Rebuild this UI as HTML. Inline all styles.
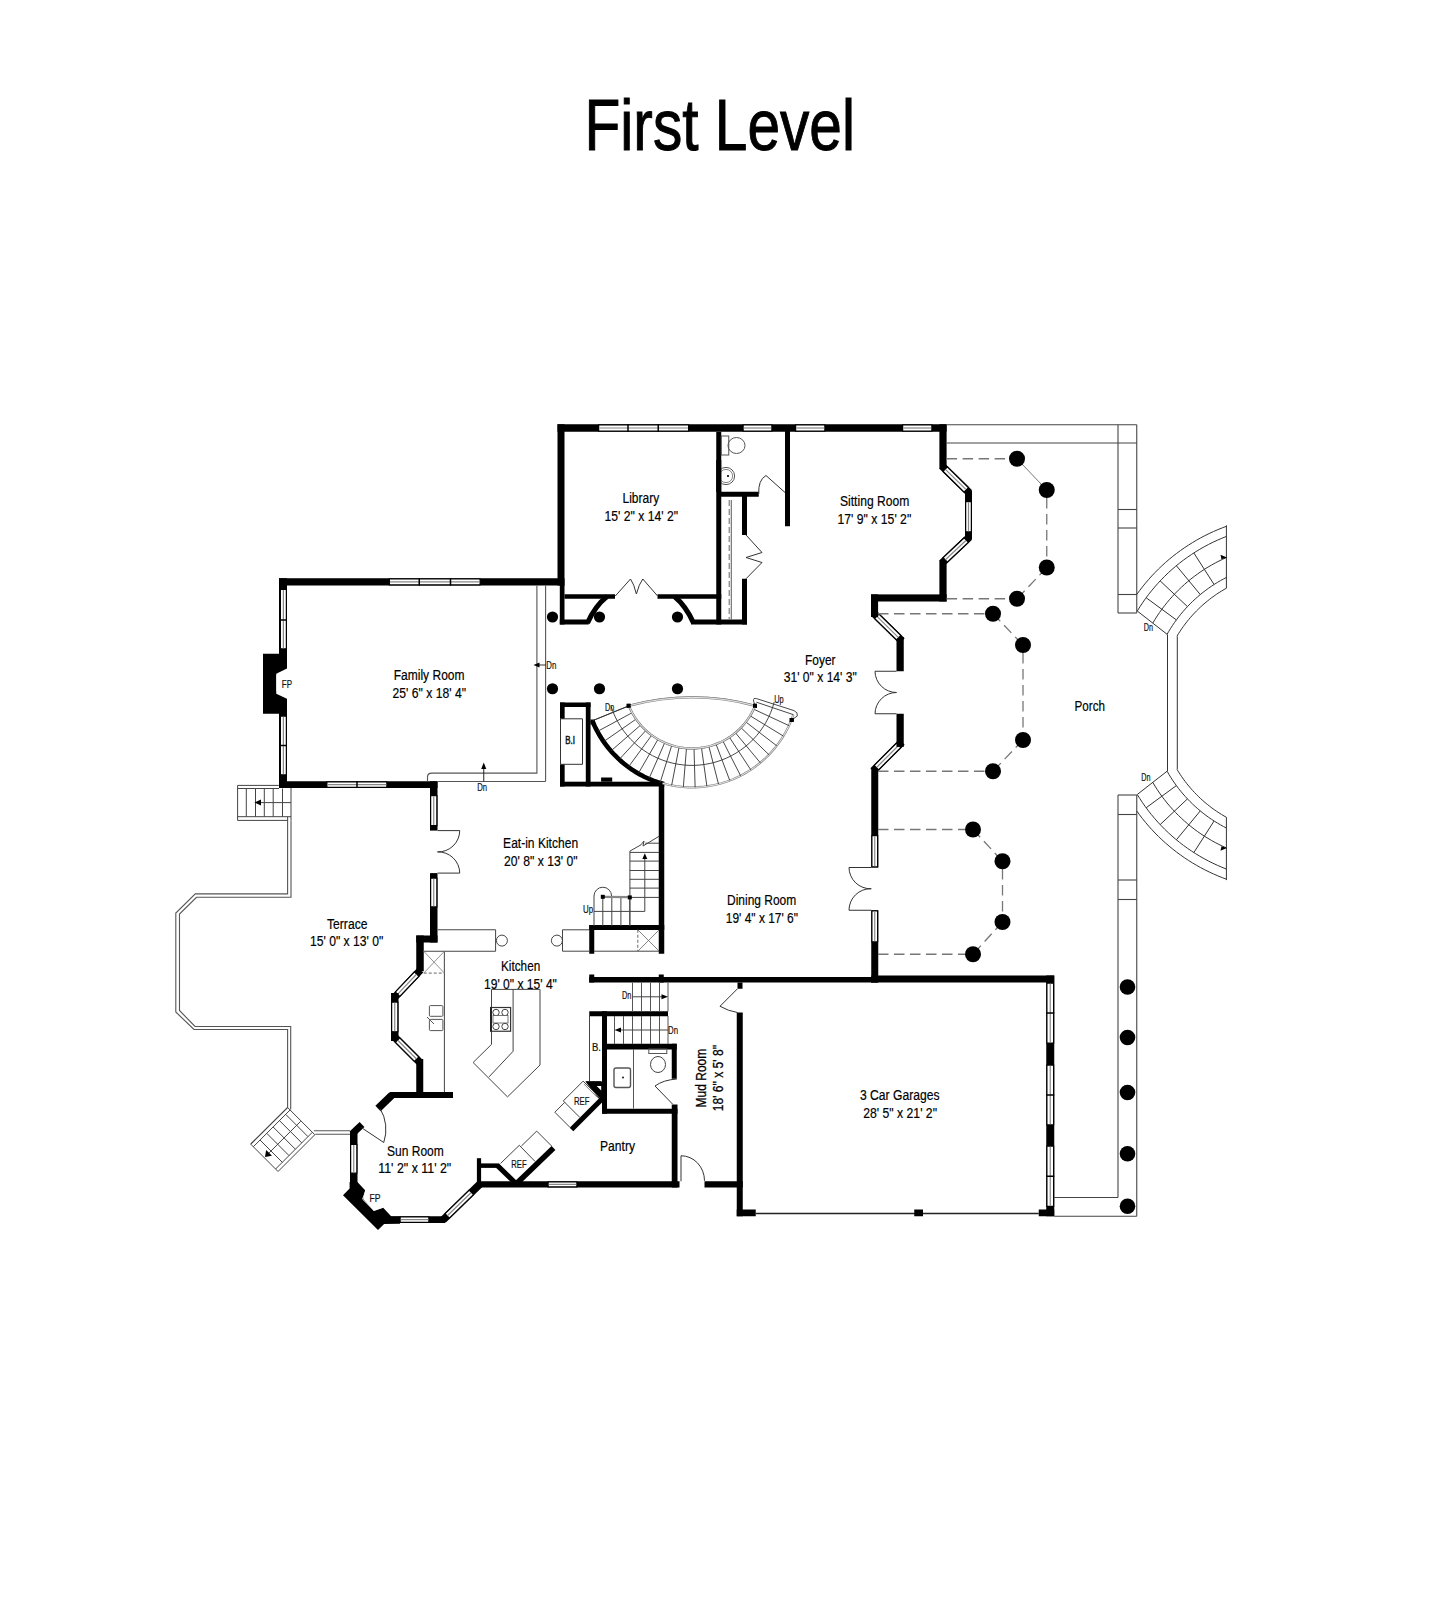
<!DOCTYPE html>
<html><head><meta charset="utf-8"><style>
html,body{margin:0;padding:0;background:#fff;}
svg{display:block;}
text{font-family:"Liberation Sans",sans-serif;}
</style></head><body>
<svg width="1440" height="1600" viewBox="0 0 1440 1600">
<rect width="1440" height="1600" fill="#fff"/>
<text x="584.50" y="150.30" font-size="72.5" textLength="270.50" lengthAdjust="spacingAndGlyphs" fill="#000" stroke="#000" stroke-width="1.0" font-weight="normal" >First Level</text>
<rect x="557.50" y="424.25" width="389.10" height="7.50" fill="#000"/>
<g transform="translate(598.00,428.00) rotate(0.000)"><rect x="0.62" y="-3.12" width="90.00" height="6.25" fill="#fff" stroke="#000" stroke-width="1.25"/><line x1="1.25" y1="0" x2="90.00" y2="0" stroke="#888" stroke-width="1.2"/><line x1="30.00" y1="-3.75" x2="30.00" y2="3.75" stroke="#000" stroke-width="1.5"/><line x1="60.25" y1="-3.75" x2="60.25" y2="3.75" stroke="#000" stroke-width="1.5"/></g>
<g transform="translate(742.50,428.00) rotate(0.000)"><rect x="0.62" y="-3.12" width="28.75" height="6.25" fill="#fff" stroke="#000" stroke-width="1.25"/><line x1="1.25" y1="0" x2="28.75" y2="0" stroke="#888" stroke-width="1.2"/></g>
<g transform="translate(795.00,428.00) rotate(0.000)"><rect x="0.62" y="-3.12" width="29.25" height="6.25" fill="#fff" stroke="#000" stroke-width="1.25"/><line x1="1.25" y1="0" x2="29.25" y2="0" stroke="#888" stroke-width="1.2"/></g>
<g transform="translate(902.00,428.00) rotate(0.000)"><rect x="0.62" y="-3.12" width="29.25" height="6.25" fill="#fff" stroke="#000" stroke-width="1.25"/><line x1="1.25" y1="0" x2="29.25" y2="0" stroke="#888" stroke-width="1.2"/></g>
<rect x="557.50" y="424.25" width="7.00" height="161.25" fill="#000"/>
<rect x="559.80" y="585.00" width="4.70" height="39.50" fill="#000"/>
<rect x="279.00" y="578.25" width="285.50" height="7.25" fill="#000"/>
<g transform="translate(388.75,581.88) rotate(0.000)"><rect x="0.62" y="-3.00" width="90.75" height="6.00" fill="#fff" stroke="#000" stroke-width="1.25"/><line x1="1.25" y1="0" x2="90.75" y2="0" stroke="#888" stroke-width="1.2"/><line x1="30.50" y1="-3.62" x2="30.50" y2="3.62" stroke="#000" stroke-width="1.5"/><line x1="61.75" y1="-3.62" x2="61.75" y2="3.62" stroke="#000" stroke-width="1.5"/></g>
<rect x="279.00" y="578.25" width="8.00" height="209.75" fill="#000"/>
<g transform="translate(283.38,588.75) rotate(90.000)"><rect x="0.62" y="-3.00" width="59.50" height="6.00" fill="#fff" stroke="#000" stroke-width="1.25"/><line x1="1.25" y1="0" x2="59.50" y2="0" stroke="#888" stroke-width="1.2"/><line x1="31.25" y1="-3.62" x2="31.25" y2="3.62" stroke="#000" stroke-width="1.5"/></g>
<g transform="translate(283.38,715.50) rotate(90.000)"><rect x="0.62" y="-3.00" width="58.75" height="6.00" fill="#fff" stroke="#000" stroke-width="1.25"/><line x1="1.25" y1="0" x2="58.75" y2="0" stroke="#888" stroke-width="1.2"/><line x1="30.00" y1="-3.62" x2="30.00" y2="3.62" stroke="#000" stroke-width="1.5"/></g>
<polygon points="263.00,653.75 287.00,653.75 287.00,667.50 276.50,675.00 276.50,691.00 287.00,698.75 287.00,713.75 263.00,713.75" fill="#000" stroke="none" stroke-width="0"/>
<polygon points="288.00,668.00 276.25,673.75 276.25,693.75 288.00,699.25" fill="#fff" stroke="none" stroke-width="0"/>
<rect x="279.00" y="781.25" width="158.50" height="6.75" fill="#000"/>
<g transform="translate(326.25,784.62) rotate(0.000)"><rect x="0.62" y="-2.75" width="60.00" height="5.50" fill="#fff" stroke="#000" stroke-width="1.25"/><line x1="1.25" y1="0" x2="60.00" y2="0" stroke="#888" stroke-width="1.2"/><line x1="30.75" y1="-3.38" x2="30.75" y2="3.38" stroke="#000" stroke-width="1.5"/></g>
<rect x="430.00" y="781.25" width="7.50" height="49.35" fill="#000"/>
<rect x="430.00" y="873.10" width="7.50" height="69.40" fill="#000"/>
<g transform="translate(433.75,795.00) rotate(90.000)"><rect x="0.62" y="-3.12" width="30.00" height="6.25" fill="#fff" stroke="#000" stroke-width="1.25"/><line x1="1.25" y1="0" x2="30.00" y2="0" stroke="#888" stroke-width="1.2"/></g>
<g transform="translate(433.75,877.50) rotate(90.000)"><rect x="0.62" y="-3.12" width="28.75" height="6.25" fill="#fff" stroke="#000" stroke-width="1.25"/><line x1="1.25" y1="0" x2="28.75" y2="0" stroke="#888" stroke-width="1.2"/></g>
<rect x="416.25" y="935.50" width="21.25" height="7.00" fill="#000"/>
<rect x="416.25" y="935.50" width="7.50" height="35.75" fill="#000"/>
<polygon points="417.78,967.42 391.78,994.92 397.22,1000.08 423.22,972.58" fill="#000" stroke="none" stroke-width="0"/>
<g transform="translate(417.12,973.58) rotate(133.394)"><rect x="0.62" y="-3.12" width="27.89" height="6.25" fill="#fff" stroke="#000" stroke-width="1.25"/><line x1="1.25" y1="0" x2="27.89" y2="0" stroke="#888" stroke-width="1.2"/></g>
<rect x="391.00" y="993.00" width="7.50" height="48.00" fill="#000"/>
<g transform="translate(394.75,1001.50) rotate(90.000)"><rect x="0.62" y="-3.12" width="29.65" height="6.25" fill="#fff" stroke="#000" stroke-width="1.25"/><line x1="1.25" y1="0" x2="29.65" y2="0" stroke="#888" stroke-width="1.2"/></g>
<polygon points="391.85,1039.65 417.85,1065.65 423.15,1060.35 397.15,1034.35" fill="#000" stroke="none" stroke-width="0"/>
<g transform="translate(397.10,1039.60) rotate(45.000)"><rect x="0.62" y="-3.12" width="27.06" height="6.25" fill="#fff" stroke="#000" stroke-width="1.25"/><line x1="1.25" y1="0" x2="27.06" y2="0" stroke="#888" stroke-width="1.2"/></g>
<rect x="416.25" y="1059.00" width="7.00" height="39.00" fill="#000"/>
<rect x="390.00" y="1092.00" width="63.00" height="6.00" fill="#000"/>
<polygon points="389.40,1092.30 375.40,1105.80 380.60,1111.20 394.60,1097.70" fill="#000" stroke="none" stroke-width="0"/>
<polygon points="354.41,1136.54 364.41,1127.04 359.59,1121.96 349.59,1131.46" fill="#000" stroke="none" stroke-width="0"/>
<rect x="350.00" y="1131.00" width="7.50" height="53.00" fill="#000"/>
<g transform="translate(353.75,1143.75) rotate(90.000)"><rect x="0.62" y="-3.12" width="28.75" height="6.25" fill="#fff" stroke="#000" stroke-width="1.25"/><line x1="1.25" y1="0" x2="28.75" y2="0" stroke="#888" stroke-width="1.2"/></g>
<polygon points="349.60,1182.00 357.40,1182.00 365.10,1190.20 363.20,1199.00 373.90,1211.10 383.20,1207.70 391.40,1216.50 400.00,1216.50 400.00,1223.75 384.10,1224.00 378.00,1230.10 343.00,1195.30 349.60,1188.50" fill="#000" stroke="none" stroke-width="0"/>
<polyline points="365.6,1191 362.6,1199.2 373.8,1210.3 383,1207.2" fill="none" stroke="#fff" stroke-width="0.9"/>
<rect x="380.00" y="1216.25" width="65.00" height="6.75" fill="#000"/>
<g transform="translate(399.50,1219.62) rotate(0.000)"><rect x="0.62" y="-2.75" width="28.75" height="5.50" fill="#fff" stroke="#000" stroke-width="1.25"/><line x1="1.25" y1="0" x2="28.75" y2="0" stroke="#888" stroke-width="1.2"/></g>
<polygon points="445.62,1222.69 482.62,1186.69 477.38,1181.31 440.38,1217.31" fill="#000" stroke="none" stroke-width="0"/>
<g transform="translate(446.70,1216.40) rotate(-44.215)"><rect x="0.62" y="-3.12" width="33.85" height="6.25" fill="#fff" stroke="#000" stroke-width="1.25"/><line x1="1.25" y1="0" x2="33.85" y2="0" stroke="#888" stroke-width="1.2"/></g>
<rect x="477.00" y="1181.25" width="202.50" height="6.25" fill="#000"/>
<g transform="translate(547.50,1184.38) rotate(0.000)"><rect x="0.62" y="-2.50" width="28.75" height="5.00" fill="#fff" stroke="#000" stroke-width="1.25"/><line x1="1.25" y1="0" x2="28.75" y2="0" stroke="#888" stroke-width="1.2"/></g>
<rect x="476.90" y="1158.20" width="4.20" height="29.30" fill="#000"/>
<rect x="481.00" y="1163.40" width="18.20" height="4.50" fill="#000"/>
<polygon points="495.76,1167.39 515.76,1186.79 519.24,1183.21 499.24,1163.81" fill="#000" stroke="none" stroke-width="0"/>
<polygon points="516.91,1186.98 555.41,1149.98 551.59,1146.02 513.09,1183.02" fill="#000" stroke="none" stroke-width="0"/>
<rect x="704.50" y="1181.25" width="38.25" height="6.25" fill="#000"/>
<rect x="736.75" y="1012.50" width="6.00" height="203.75" fill="#000"/>
<rect x="737.50" y="982.50" width="5.00" height="6.25" fill="#000"/>
<rect x="736.75" y="1209.50" width="19.00" height="6.75" fill="#000"/>
<line x1="755.75" y1="1213.50" x2="1038.75" y2="1213.50" stroke="#222" stroke-width="1.3" />
<rect x="914.25" y="1209.50" width="8.75" height="6.75" fill="#000"/>
<rect x="1038.75" y="1209.50" width="15.50" height="6.75" fill="#000"/>
<rect x="1046.25" y="975.50" width="8.00" height="240.75" fill="#000"/>
<g transform="translate(1050.25,982.50) rotate(90.000)"><rect x="0.62" y="-3.38" width="60.00" height="6.75" fill="#fff" stroke="#000" stroke-width="1.25"/><line x1="1.25" y1="0" x2="60.00" y2="0" stroke="#888" stroke-width="1.2"/><line x1="30.50" y1="-4.00" x2="30.50" y2="4.00" stroke="#000" stroke-width="1.5"/></g>
<g transform="translate(1050.25,1064.50) rotate(90.000)"><rect x="0.62" y="-3.38" width="59.75" height="6.75" fill="#fff" stroke="#000" stroke-width="1.25"/><line x1="1.25" y1="0" x2="59.75" y2="0" stroke="#888" stroke-width="1.2"/><line x1="30.50" y1="-4.00" x2="30.50" y2="4.00" stroke="#000" stroke-width="1.5"/></g>
<g transform="translate(1050.25,1145.50) rotate(90.000)"><rect x="0.62" y="-3.38" width="60.25" height="6.75" fill="#fff" stroke="#000" stroke-width="1.25"/><line x1="1.25" y1="0" x2="60.25" y2="0" stroke="#888" stroke-width="1.2"/><line x1="30.75" y1="-4.00" x2="30.75" y2="4.00" stroke="#000" stroke-width="1.5"/></g>
<rect x="871.25" y="975.50" width="183.00" height="7.00" fill="#000"/>
<rect x="589.25" y="977.00" width="288.75" height="5.50" fill="#000"/>
<rect x="589.25" y="974.50" width="5.00" height="8.00" fill="#000"/>
<rect x="658.75" y="974.50" width="5.00" height="8.00" fill="#000"/>
<rect x="871.25" y="768.00" width="7.00" height="99.50" fill="#000"/>
<rect x="871.25" y="910.25" width="7.00" height="72.25" fill="#000"/>
<g transform="translate(874.75,835.00) rotate(90.000)"><rect x="0.62" y="-2.88" width="31.25" height="5.75" fill="#fff" stroke="#000" stroke-width="1.25"/><line x1="1.25" y1="0" x2="31.25" y2="0" stroke="#888" stroke-width="1.2"/></g>
<g transform="translate(874.75,910.25) rotate(90.000)"><rect x="0.62" y="-2.88" width="31.00" height="5.75" fill="#fff" stroke="#000" stroke-width="1.25"/><line x1="1.25" y1="0" x2="31.00" y2="0" stroke="#888" stroke-width="1.2"/></g>
<polygon points="899.35,739.35 870.35,768.35 875.65,773.65 904.65,744.65" fill="#000" stroke="none" stroke-width="0"/>
<g transform="translate(899.10,744.90) rotate(135.000)"><rect x="0.62" y="-3.12" width="31.56" height="6.25" fill="#fff" stroke="#000" stroke-width="1.25"/><line x1="1.25" y1="0" x2="31.56" y2="0" stroke="#888" stroke-width="1.2"/></g>
<rect x="896.50" y="713.75" width="7.25" height="33.15" fill="#000"/>
<rect x="896.50" y="637.00" width="7.25" height="34.25" fill="#000"/>
<polygon points="870.87,615.68 899.37,643.68 904.63,638.32 876.13,610.32" fill="#000" stroke="none" stroke-width="0"/>
<g transform="translate(876.35,615.80) rotate(44.493)"><rect x="0.62" y="-3.12" width="30.71" height="6.25" fill="#fff" stroke="#000" stroke-width="1.25"/><line x1="1.25" y1="0" x2="30.71" y2="0" stroke="#888" stroke-width="1.2"/></g>
<rect x="871.00" y="594.40" width="7.10" height="22.60" fill="#000"/>
<rect x="871.00" y="594.40" width="75.60" height="7.10" fill="#000"/>
<rect x="939.40" y="424.25" width="7.20" height="44.75" fill="#000"/>
<rect x="939.40" y="560.00" width="7.20" height="41.50" fill="#000"/>
<polygon points="939.37,468.68 966.87,495.68 972.13,490.32 944.63,463.32" fill="#000" stroke="none" stroke-width="0"/>
<g transform="translate(944.75,468.70) rotate(44.474)"><rect x="0.62" y="-3.12" width="29.58" height="6.25" fill="#fff" stroke="#000" stroke-width="1.25"/><line x1="1.25" y1="0" x2="29.58" y2="0" stroke="#888" stroke-width="1.2"/></g>
<rect x="965.00" y="491.00" width="7.00" height="48.00" fill="#000"/>
<g transform="translate(968.50,501.00) rotate(90.000)"><rect x="0.62" y="-2.88" width="30.25" height="5.75" fill="#fff" stroke="#000" stroke-width="1.25"/><line x1="1.25" y1="0" x2="30.25" y2="0" stroke="#888" stroke-width="1.2"/></g>
<polygon points="966.92,534.28 939.42,560.28 944.58,565.72 972.08,539.72" fill="#000" stroke="none" stroke-width="0"/>
<g transform="translate(966.75,539.60) rotate(136.606)"><rect x="0.62" y="-3.12" width="29.03" height="6.25" fill="#fff" stroke="#000" stroke-width="1.25"/><line x1="1.25" y1="0" x2="29.03" y2="0" stroke="#888" stroke-width="1.2"/></g>
<rect x="716.25" y="431.75" width="5.00" height="192.75" fill="#000"/>
<rect x="564.50" y="594.25" width="50.50" height="4.50" fill="#000"/>
<rect x="657.50" y="594.25" width="63.75" height="4.50" fill="#000"/>
<rect x="559.80" y="619.50" width="28.95" height="5.00" fill="#000"/>
<rect x="691.00" y="619.50" width="56.00" height="5.00" fill="#000"/>
<path d="M587.5,623 Q595,606 607,596.5" fill="none" stroke="#000" stroke-width="5" />
<path d="M674.5,596.5 Q686,606 693.5,623" fill="none" stroke="#000" stroke-width="5" />
<rect x="742.00" y="496.00" width="5.00" height="39.00" fill="#000"/>
<rect x="742.00" y="578.75" width="5.00" height="45.75" fill="#000"/>
<rect x="721.00" y="491.75" width="37.75" height="5.00" fill="#000"/>
<rect x="785.00" y="431.00" width="5.00" height="95.25" fill="#000"/>
<rect x="560.00" y="702.50" width="30.55" height="4.50" fill="#000"/>
<rect x="560.00" y="702.50" width="4.65" height="16.30" fill="#000"/>
<rect x="560.00" y="764.30" width="4.65" height="22.20" fill="#000"/>
<rect x="585.80" y="702.50" width="4.75" height="84.00" fill="#000"/>
<rect x="560.00" y="781.70" width="104.25" height="4.80" fill="#000"/>
<rect x="601.10" y="777.50" width="11.10" height="4.20" fill="#000"/>
<polygon points="560.50,718.80 582.50,718.80 582.50,764.30 560.50,764.30" fill="none" stroke="#333" stroke-width="1" />
<rect x="658.75" y="781.70" width="5.50" height="172.05" fill="#000"/>
<rect x="589.25" y="925.00" width="75.00" height="5.00" fill="#000"/>
<rect x="589.25" y="925.00" width="5.00" height="28.75" fill="#000"/>
<rect x="589.25" y="1011.25" width="78.75" height="5.00" fill="#000"/>
<rect x="602.00" y="1011.25" width="5.00" height="102.50" fill="#000"/>
<rect x="602.00" y="1043.75" width="74.75" height="5.75" fill="#000"/>
<rect x="671.75" y="1043.75" width="5.00" height="35.00" fill="#000"/>
<rect x="671.75" y="1104.50" width="5.75" height="83.00" fill="#000"/>
<rect x="602.00" y="1108.75" width="75.50" height="5.00" fill="#000"/>
<polygon points="585.50,1081.25 601.25,1081.25 601.25,1091.25" fill="#000" stroke="none" stroke-width="0"/>
<polygon points="601.66,1095.66 569.66,1127.66 573.34,1131.34 605.34,1099.34" fill="#000" stroke="none" stroke-width="0"/>
<line x1="946.60" y1="424.75" x2="1136.75" y2="424.75" stroke="#444" stroke-width="1.1" />
<line x1="946.60" y1="443.00" x2="1136.75" y2="443.00" stroke="#444" stroke-width="1.1" />
<line x1="1118.00" y1="424.75" x2="1118.00" y2="613.00" stroke="#444" stroke-width="1.1" />
<line x1="1136.75" y1="424.75" x2="1136.75" y2="613.00" stroke="#444" stroke-width="1.1" />
<line x1="1118.00" y1="509.50" x2="1136.75" y2="509.50" stroke="#444" stroke-width="1.1" />
<line x1="1118.00" y1="528.00" x2="1136.75" y2="528.00" stroke="#444" stroke-width="1.1" />
<line x1="1118.00" y1="594.50" x2="1136.75" y2="594.50" stroke="#444" stroke-width="1.1" />
<line x1="1118.00" y1="613.00" x2="1136.75" y2="613.00" stroke="#444" stroke-width="1.1" />
<line x1="1118.00" y1="795.00" x2="1118.00" y2="1197.50" stroke="#444" stroke-width="1.1" />
<line x1="1136.75" y1="795.00" x2="1136.75" y2="1216.25" stroke="#444" stroke-width="1.1" />
<line x1="1118.00" y1="795.00" x2="1136.75" y2="795.00" stroke="#444" stroke-width="1.1" />
<line x1="1118.00" y1="814.50" x2="1136.75" y2="814.50" stroke="#444" stroke-width="1.1" />
<line x1="1118.00" y1="880.00" x2="1136.75" y2="880.00" stroke="#444" stroke-width="1.1" />
<line x1="1118.00" y1="899.50" x2="1136.75" y2="899.50" stroke="#444" stroke-width="1.1" />
<line x1="1054.25" y1="1197.50" x2="1118.00" y2="1197.50" stroke="#444" stroke-width="1.1" />
<line x1="1054.25" y1="1216.25" x2="1136.75" y2="1216.25" stroke="#444" stroke-width="1.1" />
<path d="M1136.74,594.52 L1139.56,590.65 L1142.48,586.86 L1145.49,583.15 L1148.59,579.51 L1151.79,575.95 L1155.07,572.47 L1158.45,569.08 L1161.90,565.77 L1165.44,562.56 L1169.06,559.43 L1172.76,556.40 L1176.53,553.46 L1180.38,550.61 L1184.29,547.87 L1188.28,545.22 L1192.33,542.68 L1196.44,540.24 L1200.62,537.90 L1204.85,535.67 L1209.14,533.55 L1213.48,531.54 L1217.86,529.64 L1222.30,527.85 L1226.78,526.17 M1137.26,611.01 L1139.88,606.83 L1142.60,602.72 L1145.44,598.68 L1148.39,594.73 L1151.45,590.85 L1154.61,587.07 L1157.88,583.37 L1161.24,579.76 L1164.71,576.25 L1168.27,572.83 L1171.92,569.51 L1175.66,566.29 L1179.49,563.18 L1183.40,560.17 L1187.39,557.28 L1191.47,554.49 L1195.61,551.82 L1199.83,549.26 L1204.12,546.82 L1208.47,544.49 L1212.89,542.29 L1217.36,540.21 L1221.89,538.25 L1226.47,536.42 M1152.80,623.03 L1154.96,619.46 L1157.21,615.94 L1159.56,612.49 L1161.99,609.09 L1164.51,605.76 L1167.12,602.50 L1169.81,599.30 L1172.58,596.18 L1175.44,593.13 L1178.37,590.16 L1181.38,587.26 L1184.47,584.45 L1187.62,581.71 L1190.85,579.06 L1194.15,576.49 L1197.51,574.01 L1200.93,571.62 L1204.42,569.32 L1207.97,567.11 L1211.57,565.00 L1215.22,562.97 L1218.93,561.05 L1222.69,559.22 L1226.49,557.49 M1167.09,634.29 L1168.83,631.28 L1170.65,628.31 L1172.54,625.39 L1174.50,622.52 L1176.54,619.69 L1178.64,616.92 L1180.80,614.20 L1183.04,611.53 L1185.34,608.91 L1187.70,606.36 L1190.12,603.86 L1192.61,601.42 L1195.15,599.05 L1197.75,596.74 L1200.41,594.49 L1203.12,592.31 L1205.88,590.19 L1208.69,588.14 L1211.56,586.17 L1214.47,584.26 L1217.43,582.43 L1220.43,580.66 L1223.47,578.98 L1226.55,577.36 M1176.99,636.15 L1178.51,633.67 L1180.08,631.22 L1181.70,628.81 L1183.38,626.43 L1185.11,624.09 L1186.89,621.79 L1188.72,619.53 L1190.60,617.31 L1192.53,615.13 L1194.50,612.99 L1196.52,610.90 L1198.59,608.85 L1200.70,606.85 L1202.86,604.89 L1205.06,602.98 L1207.30,601.13 L1209.57,599.32 L1211.89,597.56 L1214.25,595.85 L1216.64,594.20 L1219.07,592.59 L1221.54,591.05 L1224.03,589.55 L1226.56,588.11" fill="none" stroke="#333" stroke-width="1.0" />
<line x1="1146.14" y1="597.73" x2="1176.36" y2="619.93" stroke="#333" stroke-width="1.0" />
<line x1="1160.16" y1="580.90" x2="1187.46" y2="606.61" stroke="#333" stroke-width="1.0" />
<line x1="1176.38" y1="565.69" x2="1200.29" y2="594.59" stroke="#333" stroke-width="1.0" />
<line x1="1193.83" y1="552.95" x2="1214.09" y2="584.51" stroke="#333" stroke-width="1.0" />
<line x1="1226.40" y1="525.42" x2="1226.40" y2="588.11" stroke="#333" stroke-width="1.0" />
<line x1="1137.26" y1="611.01" x2="1167.09" y2="634.29" stroke="#333" stroke-width="1.0" />
<polygon points="1226.99,557.49 1220.49,554.69 1221.49,559.29" fill="#000" stroke="none" stroke-width="0"/>
<path d="M1136.74,810.98 L1139.56,814.85 L1142.48,818.64 L1145.49,822.35 L1148.59,825.99 L1151.79,829.55 L1155.07,833.03 L1158.45,836.42 L1161.90,839.73 L1165.44,842.94 L1169.06,846.07 L1172.76,849.10 L1176.53,852.04 L1180.38,854.89 L1184.29,857.63 L1188.28,860.28 L1192.33,862.82 L1196.44,865.26 L1200.62,867.60 L1204.85,869.83 L1209.14,871.95 L1213.48,873.96 L1217.86,875.86 L1222.30,877.65 L1226.78,879.33 M1137.26,794.49 L1139.88,798.67 L1142.60,802.78 L1145.44,806.82 L1148.39,810.77 L1151.45,814.65 L1154.61,818.43 L1157.88,822.13 L1161.24,825.74 L1164.71,829.25 L1168.27,832.67 L1171.92,835.99 L1175.66,839.21 L1179.49,842.32 L1183.40,845.33 L1187.39,848.22 L1191.47,851.01 L1195.61,853.68 L1199.83,856.24 L1204.12,858.68 L1208.47,861.01 L1212.89,863.21 L1217.36,865.29 L1221.89,867.25 L1226.47,869.08 M1152.80,782.47 L1154.96,786.04 L1157.21,789.56 L1159.56,793.01 L1161.99,796.41 L1164.51,799.74 L1167.12,803.00 L1169.81,806.20 L1172.58,809.32 L1175.44,812.37 L1178.37,815.34 L1181.38,818.24 L1184.47,821.05 L1187.62,823.79 L1190.85,826.44 L1194.15,829.01 L1197.51,831.49 L1200.93,833.88 L1204.42,836.18 L1207.97,838.39 L1211.57,840.50 L1215.22,842.53 L1218.93,844.45 L1222.69,846.28 L1226.49,848.01 M1167.09,771.21 L1168.83,774.22 L1170.65,777.19 L1172.54,780.11 L1174.50,782.98 L1176.54,785.81 L1178.64,788.58 L1180.80,791.30 L1183.04,793.97 L1185.34,796.59 L1187.70,799.14 L1190.12,801.64 L1192.61,804.08 L1195.15,806.45 L1197.75,808.76 L1200.41,811.01 L1203.12,813.19 L1205.88,815.31 L1208.69,817.36 L1211.56,819.33 L1214.47,821.24 L1217.43,823.07 L1220.43,824.84 L1223.47,826.52 L1226.55,828.14 M1176.99,769.35 L1178.51,771.83 L1180.08,774.28 L1181.70,776.69 L1183.38,779.07 L1185.11,781.41 L1186.89,783.71 L1188.72,785.97 L1190.60,788.19 L1192.53,790.37 L1194.50,792.51 L1196.52,794.60 L1198.59,796.65 L1200.70,798.65 L1202.86,800.61 L1205.06,802.52 L1207.30,804.37 L1209.57,806.18 L1211.89,807.94 L1214.25,809.65 L1216.64,811.30 L1219.07,812.91 L1221.54,814.45 L1224.03,815.95 L1226.56,817.39" fill="none" stroke="#333" stroke-width="1.0" />
<line x1="1146.14" y1="807.77" x2="1176.36" y2="785.57" stroke="#333" stroke-width="1.0" />
<line x1="1160.16" y1="824.60" x2="1187.46" y2="798.89" stroke="#333" stroke-width="1.0" />
<line x1="1176.38" y1="839.81" x2="1200.29" y2="810.91" stroke="#333" stroke-width="1.0" />
<line x1="1193.83" y1="852.55" x2="1214.09" y2="820.99" stroke="#333" stroke-width="1.0" />
<line x1="1226.40" y1="880.08" x2="1226.40" y2="817.39" stroke="#333" stroke-width="1.0" />
<line x1="1137.26" y1="794.49" x2="1167.09" y2="771.21" stroke="#333" stroke-width="1.0" />
<polygon points="1226.99,848.01 1220.49,850.81 1221.49,846.21" fill="#000" stroke="none" stroke-width="0"/>
<line x1="1167.50" y1="634.40" x2="1167.50" y2="771.10" stroke="#333" stroke-width="1.0" />
<line x1="1177.30" y1="636.30" x2="1177.30" y2="769.20" stroke="#333" stroke-width="1.0" />
<line x1="946.60" y1="458.75" x2="1009.00" y2="458.75" stroke="#777" stroke-width="1.3" stroke-dasharray="10.5,5.5"/>
<line x1="1017.00" y1="458.75" x2="1046.75" y2="490.00" stroke="#777" stroke-width="1.0" />
<line x1="1046.75" y1="498.00" x2="1046.75" y2="559.50" stroke="#777" stroke-width="1.3" stroke-dasharray="10.5,5.5"/>
<line x1="1046.75" y1="567.50" x2="1017.00" y2="598.75" stroke="#777" stroke-width="1.3" stroke-dasharray="10.5,5.5"/>
<line x1="946.60" y1="598.75" x2="1009.00" y2="598.75" stroke="#777" stroke-width="1.3" stroke-dasharray="10.5,5.5"/>
<line x1="878.00" y1="613.75" x2="985.00" y2="613.75" stroke="#777" stroke-width="1.3" stroke-dasharray="10.5,5.5"/>
<line x1="993.00" y1="613.75" x2="1023.00" y2="645.00" stroke="#777" stroke-width="1.3" stroke-dasharray="10.5,5.5"/>
<line x1="1023.00" y1="653.00" x2="1023.00" y2="732.00" stroke="#777" stroke-width="1.3" stroke-dasharray="10.5,5.5"/>
<line x1="1023.00" y1="740.00" x2="993.00" y2="771.25" stroke="#777" stroke-width="1.3" stroke-dasharray="10.5,5.5"/>
<line x1="878.00" y1="771.25" x2="985.00" y2="771.25" stroke="#777" stroke-width="1.3" stroke-dasharray="10.5,5.5"/>
<line x1="878.00" y1="829.50" x2="965.00" y2="829.50" stroke="#777" stroke-width="1.3" stroke-dasharray="10.5,5.5"/>
<line x1="973.00" y1="829.50" x2="1002.50" y2="861.25" stroke="#777" stroke-width="1.3" stroke-dasharray="10.5,5.5"/>
<line x1="1002.50" y1="869.00" x2="1002.50" y2="914.00" stroke="#777" stroke-width="1.3" stroke-dasharray="10.5,5.5"/>
<line x1="1002.50" y1="922.00" x2="973.00" y2="954.25" stroke="#777" stroke-width="1.3" stroke-dasharray="10.5,5.5"/>
<line x1="878.00" y1="954.25" x2="965.00" y2="954.25" stroke="#777" stroke-width="1.3" stroke-dasharray="10.5,5.5"/>
<polyline points="287.60,816.70 287.60,893.90 195.30,893.90 175.80,913.00 175.80,1012.00 194.00,1029.50 287.60,1029.50 287.60,1107.50 250.70,1144.00" fill="none" stroke="#555" stroke-width="1.1" />
<polyline points="291.00,820.40 291.00,897.30 196.50,897.30 179.50,914.00 179.50,1010.50 195.00,1026.50 290.70,1026.50 290.70,1109.40" fill="none" stroke="#555" stroke-width="1.1" />
<polyline points="278.80,785.40 237.60,785.40 237.60,820.40 287.60,820.40" fill="none" stroke="#444" stroke-width="1.0" />
<line x1="237.60" y1="788.50" x2="279.00" y2="788.50" stroke="#444" stroke-width="1.0" />
<line x1="237.60" y1="816.70" x2="291.00" y2="816.70" stroke="#444" stroke-width="1.0" />
<line x1="291.00" y1="788.00" x2="291.00" y2="820.40" stroke="#444" stroke-width="1.0" />
<line x1="246.30" y1="788.50" x2="246.30" y2="816.70" stroke="#444" stroke-width="1.0" />
<line x1="255.50" y1="788.50" x2="255.50" y2="816.70" stroke="#444" stroke-width="1.0" />
<line x1="264.30" y1="788.50" x2="264.30" y2="816.70" stroke="#444" stroke-width="1.0" />
<line x1="273.20" y1="788.50" x2="273.20" y2="816.70" stroke="#444" stroke-width="1.0" />
<line x1="282.50" y1="788.50" x2="282.50" y2="816.70" stroke="#444" stroke-width="1.0" />
<line x1="291.00" y1="802.60" x2="258.00" y2="802.60" stroke="#444" stroke-width="1.0" />
<polygon points="254.50,802.60 261.00,799.60 261.00,805.60" fill="#000" stroke="none" stroke-width="0"/>
<polygon points="287.60,1107.50 250.83,1144.27 278.05,1171.49 314.82,1134.72" fill="none" stroke="#444" stroke-width="1.0" />
<polyline points="290.07,1109.97 253.31,1146.74" fill="none" stroke="#444" stroke-width="1.0" />
<polyline points="312.35,1132.25 275.58,1169.02" fill="none" stroke="#444" stroke-width="1.0" />
<polyline points="285.69,1114.36 307.96,1136.63" fill="none" stroke="#444" stroke-width="1.0" />
<polyline points="279.47,1120.58 301.74,1142.86" fill="none" stroke="#444" stroke-width="1.0" />
<polyline points="273.10,1126.95 295.38,1149.22" fill="none" stroke="#444" stroke-width="1.0" />
<polyline points="266.74,1133.31 289.01,1155.58" fill="none" stroke="#444" stroke-width="1.0" />
<polyline points="260.02,1140.03 282.30,1162.30" fill="none" stroke="#444" stroke-width="1.0" />
<polyline points="300.68,1121.29 267.80,1154.17" fill="none" stroke="#444" stroke-width="1.0" />
<polygon points="264.97,1157.00 266.17,1150.00 271.97,1155.80" fill="#000" stroke="none" stroke-width="0"/>
<polyline points="313.90,1130.80 350.00,1130.80" fill="none" stroke="#555" stroke-width="1.1" />
<polyline points="315.30,1134.20 350.00,1134.20" fill="none" stroke="#555" stroke-width="1.1" />
<path d="M628.89,705.72 L630.51,709.43 L632.34,713.03 L634.38,716.51 L636.63,719.87 L639.07,723.09 L641.70,726.16 L644.50,729.06 L647.48,731.80 L650.61,734.35 L653.88,736.71 L657.30,738.88 L660.83,740.84 L664.47,742.58 L668.21,744.10 L672.04,745.40 L675.94,746.48 L679.89,747.31 L683.88,747.91 L687.91,748.28 L691.94,748.40 L695.98,748.28 L700.01,747.93 L704.00,747.33 L707.96,746.50 L711.85,745.44 L715.68,744.14 L719.42,742.62 L723.07,740.89 L726.61,738.93 L730.02,736.78 L733.30,734.42 L736.44,731.87 L739.42,729.14 L742.23,726.24 L744.86,723.18 L747.31,719.96 L749.56,716.61 L751.61,713.12 L753.45,709.53 L755.07,705.83" fill="none" stroke="#888" stroke-width="2.2" />
<path d="M628.89,705.72 L630.51,709.43 L632.34,713.03 L634.38,716.51 L636.63,719.87 L639.07,723.09 L641.70,726.16 L644.50,729.06 L647.48,731.80 L650.61,734.35 L653.88,736.71 L657.30,738.88 L660.83,740.84 L664.47,742.58 L668.21,744.10 L672.04,745.40 L675.94,746.48 L679.89,747.31 L683.88,747.91 L687.91,748.28 L691.94,748.40 L695.98,748.28 L700.01,747.93 L704.00,747.33 L707.96,746.50 L711.85,745.44 L715.68,744.14 L719.42,742.62 L723.07,740.89 L726.61,738.93 L730.02,736.78 L733.30,734.42 L736.44,731.87 L739.42,729.14 L742.23,726.24 L744.86,723.18 L747.31,719.96 L749.56,716.61 L751.61,713.12 L753.45,709.53 L755.07,705.83" fill="none" stroke="#fff" stroke-width="0.8" />
<path d="M592.82,720.56 L595.44,726.51 L598.42,732.29 L601.75,737.87 L605.40,743.25 L609.38,748.39 L613.66,753.28 L618.23,757.91 L623.08,762.24 L628.17,766.28 L633.51,770.00 L639.06,773.38 L644.80,776.43 L650.72,779.12 L656.79,781.44 L663.00,783.39 L669.30,784.97 L675.70,786.15 L682.15,786.95 L688.64,787.35 L695.14,787.35 L701.63,786.97 L708.08,786.18 L714.48,785.01 L720.79,783.45 L727.00,781.52 L733.07,779.20 L739.00,776.53 L744.75,773.49 L750.31,770.12 L755.65,766.41 L760.75,762.39 L765.61,758.06 L770.19,753.45 L774.48,748.56 L778.47,743.43 L782.13,738.06 L785.47,732.48 L788.46,726.71 L791.09,720.76 L793.36,714.67" fill="none" stroke="#888" stroke-width="2.2" />
<path d="M592.82,720.56 L595.44,726.51 L598.42,732.29 L601.75,737.87 L605.40,743.25 L609.38,748.39 L613.66,753.28 L618.23,757.91 L623.08,762.24 L628.17,766.28 L633.51,770.00 L639.06,773.38 L644.80,776.43 L650.72,779.12 L656.79,781.44 L663.00,783.39 L669.30,784.97 L675.70,786.15 L682.15,786.95 L688.64,787.35 L695.14,787.35 L701.63,786.97 L708.08,786.18 L714.48,785.01 L720.79,783.45 L727.00,781.52 L733.07,779.20 L739.00,776.53 L744.75,773.49 L750.31,770.12 L755.65,766.41 L760.75,762.39 L765.61,758.06 L770.19,753.45 L774.48,748.56 L778.47,743.43 L782.13,738.06 L785.47,732.48 L788.46,726.71 L791.09,720.76 L793.36,714.67" fill="none" stroke="#fff" stroke-width="0.8" />
<path d="M592.36,720.75 L593.30,722.99 L594.29,725.22 L595.33,727.42 L596.42,729.60 L597.56,731.76 L598.75,733.88 L599.99,735.98 L601.27,738.06 L602.60,740.10 L603.98,742.11 L605.40,744.09 L606.86,746.04 L608.37,747.95 L609.93,749.83 L611.52,751.67 L613.16,753.48 L614.83,755.24 L616.55,756.97 L618.31,758.66 L620.10,760.32 L621.93,761.92 L623.79,763.49 L625.70,765.02 L627.63,766.50 L629.60,767.94 L631.60,769.33 L633.63,770.67 L635.69,771.97 L637.78,773.23 L639.90,774.43 L642.05,775.59 L644.22,776.70 L646.41,777.75 L648.63,778.76 L650.87,779.72 L653.13,780.63 L655.41,781.48 L657.72,782.29 L660.03,783.04 L662.37,783.74" fill="none" stroke="#000" stroke-width="4.6" />
<rect x="590.50" y="719.50" width="4.50" height="5.00" fill="#000"/>
<line x1="628.97" y1="705.92" x2="592.82" y2="720.56" stroke="#333" stroke-width="0.9" />
<line x1="632.17" y1="712.72" x2="597.85" y2="731.25" stroke="#333" stroke-width="0.9" />
<line x1="636.10" y1="719.12" x2="604.04" y2="741.32" stroke="#333" stroke-width="0.9" />
<line x1="640.71" y1="725.04" x2="611.29" y2="750.65" stroke="#333" stroke-width="0.9" />
<line x1="645.94" y1="730.43" x2="619.53" y2="759.12" stroke="#333" stroke-width="0.9" />
<line x1="651.74" y1="735.20" x2="628.65" y2="766.63" stroke="#333" stroke-width="0.9" />
<line x1="658.03" y1="739.31" x2="638.54" y2="773.09" stroke="#333" stroke-width="0.9" />
<line x1="664.73" y1="742.69" x2="649.09" y2="778.42" stroke="#333" stroke-width="0.9" />
<line x1="671.77" y1="745.32" x2="660.16" y2="782.55" stroke="#333" stroke-width="0.9" />
<line x1="679.05" y1="747.16" x2="671.62" y2="785.44" stroke="#333" stroke-width="0.9" />
<line x1="686.49" y1="748.18" x2="683.33" y2="787.05" stroke="#333" stroke-width="0.9" />
<line x1="694.00" y1="748.37" x2="695.14" y2="787.35" stroke="#333" stroke-width="0.9" />
<line x1="701.48" y1="747.74" x2="706.91" y2="786.36" stroke="#333" stroke-width="0.9" />
<line x1="708.85" y1="746.28" x2="718.51" y2="784.06" stroke="#333" stroke-width="0.9" />
<line x1="716.01" y1="744.02" x2="729.78" y2="780.51" stroke="#333" stroke-width="0.9" />
<line x1="722.88" y1="740.99" x2="740.58" y2="775.73" stroke="#333" stroke-width="0.9" />
<line x1="729.37" y1="737.21" x2="750.80" y2="769.80" stroke="#333" stroke-width="0.9" />
<line x1="735.40" y1="732.75" x2="760.30" y2="762.77" stroke="#333" stroke-width="0.9" />
<line x1="740.91" y1="727.64" x2="768.96" y2="754.73" stroke="#333" stroke-width="0.9" />
<line x1="745.82" y1="721.96" x2="776.69" y2="745.79" stroke="#333" stroke-width="0.9" />
<line x1="750.08" y1="715.77" x2="783.39" y2="736.06" stroke="#333" stroke-width="0.9" />
<line x1="753.62" y1="709.15" x2="788.97" y2="725.64" stroke="#333" stroke-width="0.9" />
<line x1="756.42" y1="702.18" x2="793.36" y2="714.67" stroke="#333" stroke-width="0.9" />
<path d="M611.18,706.73 L613.04,711.86 L615.22,716.87 L617.72,721.72 L620.53,726.41 L623.63,730.90 L627.01,735.19 L630.67,739.25 L634.57,743.07 L638.72,746.63 L643.08,749.91 L647.64,752.91 L652.39,755.61 L657.30,758.00 L662.36,760.06 L667.53,761.80 L672.81,763.21 L678.17,764.27 L683.58,764.98 L689.03,765.35 L694.49,765.36 L699.94,765.03 L705.36,764.34 L710.73,763.31 L716.01,761.94 L721.20,760.23 L726.26,758.19 L731.19,755.83 L735.95,753.15 L740.53,750.18 L744.91,746.92 L749.08,743.39 L753.00,739.59 L756.68,735.55 L760.09,731.28 L763.21,726.81 L766.05,722.14 L768.57,717.30 L770.79,712.30 L772.67,707.18 L774.22,701.94" fill="none" stroke="#333" stroke-width="0.9" />
<path d="M628.7,705.8 Q693,689 755,705.8" fill="none" stroke="#888" stroke-width="2.4" />
<path d="M628.7,705.8 Q693,689 755,705.8" fill="none" stroke="#fff" stroke-width="0.8" />
<line x1="594.20" y1="720.00" x2="628.70" y2="705.80" stroke="#333" stroke-width="0.9" />
<path d="M755,705.8 L753.6,701 Q753,697.6 756.5,698.6 L794,710.6 Q798.3,712.3 797.3,716 L791.7,720" fill="none" stroke="#333" stroke-width="0.9" />
<rect x="626.70" y="703.80" width="4.00" height="4.00" fill="#000"/>
<rect x="753.00" y="703.80" width="4.00" height="4.00" fill="#000"/>
<rect x="789.70" y="718.00" width="4.00" height="4.00" fill="#000"/>
<path d="M629.82,705.35 L631.41,709.00 L633.22,712.55 L635.23,715.98 L637.44,719.29 L639.85,722.46 L642.44,725.48 L645.20,728.35 L648.13,731.04 L651.22,733.56 L654.45,735.89 L657.81,738.02 L661.29,739.95 L664.88,741.67 L668.56,743.17 L672.33,744.45 L676.17,745.50 L680.07,746.33 L684.00,746.92 L687.97,747.28 L691.94,747.40 L695.92,747.29 L699.89,746.93 L703.83,746.35 L707.72,745.53 L711.56,744.48 L715.33,743.21 L719.02,741.71 L722.61,740.00 L726.10,738.07 L729.46,735.95 L732.70,733.62 L735.78,731.11 L738.72,728.42 L741.49,725.57 L744.08,722.55 L746.49,719.38 L748.71,716.07 L750.73,712.64 L752.54,709.10 L754.14,705.45 Q693,689 628.7,705.8 Z" fill="#fff" stroke="none"/>
<path d="M628.89,705.72 L630.51,709.43 L632.34,713.03 L634.38,716.51 L636.63,719.87 L639.07,723.09 L641.70,726.16 L644.50,729.06 L647.48,731.80 L650.61,734.35 L653.88,736.71 L657.30,738.88 L660.83,740.84 L664.47,742.58 L668.21,744.10 L672.04,745.40 L675.94,746.48 L679.89,747.31 L683.88,747.91 L687.91,748.28 L691.94,748.40 L695.98,748.28 L700.01,747.93 L704.00,747.33 L707.96,746.50 L711.85,745.44 L715.68,744.14 L719.42,742.62 L723.07,740.89 L726.61,738.93 L730.02,736.78 L733.30,734.42 L736.44,731.87 L739.42,729.14 L742.23,726.24 L744.86,723.18 L747.31,719.96 L749.56,716.61 L751.61,713.12 L753.45,709.53 L755.07,705.83" fill="none" stroke="#888" stroke-width="2.2" />
<path d="M628.89,705.72 L630.51,709.43 L632.34,713.03 L634.38,716.51 L636.63,719.87 L639.07,723.09 L641.70,726.16 L644.50,729.06 L647.48,731.80 L650.61,734.35 L653.88,736.71 L657.30,738.88 L660.83,740.84 L664.47,742.58 L668.21,744.10 L672.04,745.40 L675.94,746.48 L679.89,747.31 L683.88,747.91 L687.91,748.28 L691.94,748.40 L695.98,748.28 L700.01,747.93 L704.00,747.33 L707.96,746.50 L711.85,745.44 L715.68,744.14 L719.42,742.62 L723.07,740.89 L726.61,738.93 L730.02,736.78 L733.30,734.42 L736.44,731.87 L739.42,729.14 L742.23,726.24 L744.86,723.18 L747.31,719.96 L749.56,716.61 L751.61,713.12 L753.45,709.53 L755.07,705.83" fill="none" stroke="#fff" stroke-width="0.8" />
<path d="M628.7,705.8 Q693,689 755,705.8" fill="none" stroke="#888" stroke-width="2.4" />
<path d="M628.7,705.8 Q693,689 755,705.8" fill="none" stroke="#fff" stroke-width="0.8" />
<rect x="626.70" y="703.80" width="4.00" height="4.00" fill="#000"/>
<rect x="753.00" y="703.80" width="4.00" height="4.00" fill="#000"/>
<rect x="789.70" y="718.00" width="4.00" height="4.00" fill="#000"/>
<line x1="629.90" y1="852.40" x2="659.20" y2="852.40" stroke="#444" stroke-width="1.0" />
<line x1="629.90" y1="861.10" x2="659.20" y2="861.10" stroke="#444" stroke-width="1.0" />
<line x1="629.90" y1="870.50" x2="659.20" y2="870.50" stroke="#444" stroke-width="1.0" />
<line x1="629.90" y1="879.30" x2="659.20" y2="879.30" stroke="#444" stroke-width="1.0" />
<line x1="629.90" y1="888.10" x2="659.20" y2="888.10" stroke="#444" stroke-width="1.0" />
<line x1="629.90" y1="897.40" x2="659.20" y2="897.40" stroke="#444" stroke-width="1.0" />
<line x1="629.90" y1="851.10" x2="629.90" y2="925.90" stroke="#444" stroke-width="1.0" />
<path d="M629.9,851.1 L641,844.8 L644,841 L643,846 L659.2,836.2" fill="none" stroke="#444" stroke-width="1.0" />
<line x1="645.20" y1="843.20" x2="659.20" y2="843.20" stroke="#444" stroke-width="1.0" />
<polyline points="594.00,911.40 644.80,911.40 644.80,857.00" fill="none" stroke="#444" stroke-width="1.0" />
<polygon points="644.80,853.20 642.30,859.00 647.30,859.00" fill="#000" stroke="none" stroke-width="0"/>
<line x1="602.80" y1="896.60" x2="602.80" y2="925.90" stroke="#444" stroke-width="1.0" />
<line x1="611.80" y1="896.60" x2="611.80" y2="925.90" stroke="#444" stroke-width="1.0" />
<line x1="620.90" y1="896.60" x2="620.90" y2="925.90" stroke="#444" stroke-width="1.0" />
<line x1="629.80" y1="896.60" x2="629.80" y2="925.90" stroke="#444" stroke-width="1.0" />
<path d="M594,925.9 L594,896 A8.8,8.8 0 0 1 611.6,896" fill="none" stroke="#444" stroke-width="1.0" />
<line x1="602.80" y1="896.80" x2="629.80" y2="897.20" stroke="#888" stroke-width="2.2" />
<rect x="600.80" y="894.80" width="4.00" height="4.00" fill="#000"/>
<rect x="627.80" y="895.40" width="4.00" height="4.00" fill="#000"/>
<polyline points="589.40,929.80 562.50,929.80 562.50,951.20 589.40,951.20" fill="none" stroke="#444" stroke-width="1.0" />
<circle cx="556.9" cy="940.6" r="5.5" fill="none" stroke="#444" stroke-width="1"/>
<line x1="594.00" y1="951.20" x2="659.00" y2="951.20" stroke="#444" stroke-width="1.0" />
<polyline points="637.80,929.80 637.80,951.20" fill="none" stroke="#666" stroke-width="1.0" stroke-dasharray="3,2"/>
<line x1="637.80" y1="929.80" x2="659.20" y2="951.20" stroke="#666" stroke-width="0.8" />
<line x1="659.20" y1="929.80" x2="637.80" y2="951.20" stroke="#666" stroke-width="0.8" />
<polyline points="437.50,929.75 495.60,929.75 495.60,951.25 423.75,951.25" fill="none" stroke="#444" stroke-width="1.0" />
<circle cx="501.9" cy="940.6" r="5.5" fill="none" stroke="#444" stroke-width="1"/>
<line x1="444.40" y1="951.25" x2="444.40" y2="1092.00" stroke="#444" stroke-width="1.0" />
<polyline points="423.75,973.10 444.40,973.10 444.40,951.25" fill="none" stroke="#666" stroke-width="1.0" stroke-dasharray="3,2"/>
<line x1="423.75" y1="951.25" x2="444.40" y2="973.10" stroke="#777" stroke-width="0.8" />
<line x1="444.40" y1="951.25" x2="423.75" y2="973.10" stroke="#777" stroke-width="0.8" />
<rect x="429.4" y="1005.6" width="13.5" height="10.7" rx="1" fill="none" stroke="#555" stroke-width="1"/>
<rect x="429.4" y="1019.4" width="13.5" height="11.2" rx="1" fill="none" stroke="#555" stroke-width="1"/>
<line x1="427.00" y1="1017.00" x2="434.00" y2="1024.00" stroke="#555" stroke-width="1" />
<polyline points="491.50,989.40 540.00,989.40 540.00,1065.00 507.50,1096.90 473.10,1062.50 491.50,1044.40 491.50,989.40" fill="none" stroke="#444" stroke-width="1.0" />
<polyline points="513.10,989.40 513.10,1051.25 489.00,1076.90" fill="none" stroke="#444" stroke-width="1.0" />
<rect x="490.6" y="1007.5" width="20" height="23.75" fill="#fff" stroke="#333" stroke-width="1.2"/>
<circle cx="496" cy="1012.5" r="3.2" fill="none" stroke="#444" stroke-width="1"/>
<circle cx="505" cy="1012.5" r="3.2" fill="none" stroke="#444" stroke-width="1"/>
<circle cx="496" cy="1026.5" r="3.2" fill="none" stroke="#444" stroke-width="1"/>
<circle cx="505" cy="1026.5" r="3.2" fill="none" stroke="#444" stroke-width="1"/>
<line x1="491.00" y1="1007.50" x2="491.00" y2="1031.25" stroke="#222" stroke-width="2" />
<rect x="493.00" y="1015.50" width="15.00" height="7.50" fill="#fff"/>
<rect x="493" y="1015.5" width="15" height="7.5" fill="none" stroke="#555" stroke-width="0.8"/>
<path d="M427.5,781.25 L427.5,777 Q427.5,773.1 432,773.1 L536.9,773.1 L536.9,585.5" fill="none" stroke="#555" stroke-width="1.1" />
<line x1="437.50" y1="781.50" x2="545.60" y2="781.50" stroke="#555" stroke-width="1.1" />
<line x1="545.60" y1="781.50" x2="545.60" y2="585.50" stroke="#555" stroke-width="1.1" />
<line x1="483.75" y1="781.50" x2="483.75" y2="766.00" stroke="#222" stroke-width="1.0" />
<polygon points="483.75,762.50 481.20,769.00 486.30,769.00" fill="#000" stroke="none" stroke-width="0"/>
<line x1="546.00" y1="665.00" x2="537.00" y2="665.00" stroke="#333" stroke-width="1" />
<polygon points="533.50,665.00 539.50,662.50 539.50,667.50" fill="#000" stroke="none" stroke-width="0"/>
<line x1="729.20" y1="500.00" x2="729.20" y2="619.50" stroke="#666" stroke-width="1.0" stroke-dasharray="6,3"/>
<line x1="731.25" y1="500.00" x2="731.25" y2="619.50" stroke="#555" stroke-width="1.0" />
<polyline points="615.30,596.00 630.50,579.00" fill="none" stroke="#333" stroke-width="1.0" />
<path d="M630.5,579 Q634,584 636.4,594" fill="none" stroke="#333" stroke-width="1.0" />
<polyline points="657.60,596.00 642.80,579.00" fill="none" stroke="#333" stroke-width="1.0" />
<path d="M642.8,579 Q639,584 636.4,594" fill="none" stroke="#333" stroke-width="1.0" />
<polyline points="746.00,535.00 762.00,552.50 746.00,557.50 762.00,562.50 746.00,578.75" fill="none" stroke="#333" stroke-width="1.0" />
<line x1="766.00" y1="475.50" x2="785.00" y2="492.50" stroke="#333" stroke-width="1.0" />
<path d="M758.75,494 Q758,480 766,475.5" fill="none" stroke="#333" stroke-width="1.0" />
<rect x="721.25" y="436" width="7.5" height="19" fill="none" stroke="#555" stroke-width="1"/>
<ellipse cx="736.5" cy="445.5" rx="8.5" ry="8" fill="none" stroke="#555" stroke-width="1"/>
<circle cx="726" cy="476" r="8.6" fill="none" stroke="#555" stroke-width="1"/>
<circle cx="726" cy="476" r="6.6" fill="none" stroke="#666" stroke-width="0.8"/>
<circle cx="728" cy="476" r="1.1" fill="#000"/>
<rect x="716.25" y="460.00" width="5.00" height="32.00" fill="#000"/>
<path d="M437.5,830.6 L459.75,830.6 A21.5,21.5 0 0 1 437.5,851.9" fill="none" stroke="#333" stroke-width="1.0" />
<path d="M437.5,873.1 L459.75,873.1 A21.5,21.5 0 0 0 437.5,851.9" fill="none" stroke="#333" stroke-width="1.0" />
<path d="M896.5,671.25 L875,671.25 A21.5,21.5 0 0 0 896.5,692.5" fill="none" stroke="#333" stroke-width="1.0" />
<path d="M896.5,713.75 L875,713.75 A21.5,21.5 0 0 1 896.5,692.5" fill="none" stroke="#333" stroke-width="1.0" />
<path d="M871.25,867.5 L849,867.5 A21.5,21.5 0 0 0 871.25,888.75" fill="none" stroke="#333" stroke-width="1.0" />
<path d="M871.25,910.25 L849,910.25 A21.5,21.5 0 0 1 871.25,888.75" fill="none" stroke="#333" stroke-width="1.0" />
<line x1="632.50" y1="982.50" x2="632.50" y2="1011.50" stroke="#555" stroke-width="1.0" />
<line x1="641.50" y1="982.50" x2="641.50" y2="1011.50" stroke="#555" stroke-width="1.0" />
<line x1="650.50" y1="982.50" x2="650.50" y2="1011.50" stroke="#555" stroke-width="1.0" />
<line x1="659.50" y1="982.50" x2="659.50" y2="1011.50" stroke="#555" stroke-width="1.0" />
<line x1="668.00" y1="982.50" x2="668.00" y2="1011.50" stroke="#555" stroke-width="1.0" />
<line x1="632.50" y1="996.80" x2="664.00" y2="996.80" stroke="#444" stroke-width="1.0" />
<polygon points="668.00,996.80 661.50,994.30 661.50,999.30" fill="#000" stroke="none" stroke-width="0"/>
<line x1="614.50" y1="1016.00" x2="614.50" y2="1044.00" stroke="#555" stroke-width="1.0" />
<line x1="623.50" y1="1016.00" x2="623.50" y2="1044.00" stroke="#555" stroke-width="1.0" />
<line x1="632.50" y1="1016.00" x2="632.50" y2="1044.00" stroke="#555" stroke-width="1.0" />
<line x1="641.50" y1="1016.00" x2="641.50" y2="1044.00" stroke="#555" stroke-width="1.0" />
<line x1="650.50" y1="1016.00" x2="650.50" y2="1044.00" stroke="#555" stroke-width="1.0" />
<line x1="659.50" y1="1016.00" x2="659.50" y2="1044.00" stroke="#555" stroke-width="1.0" />
<line x1="668.00" y1="1016.00" x2="668.00" y2="1044.00" stroke="#555" stroke-width="1.0" />
<line x1="668.00" y1="1030.00" x2="618.00" y2="1030.00" stroke="#444" stroke-width="1.0" />
<polygon points="614.50,1030.00 621.00,1027.50 621.00,1032.50" fill="#000" stroke="none" stroke-width="0"/>
<line x1="589.50" y1="1016.00" x2="589.50" y2="1081.50" stroke="#444" stroke-width="1.0" />
<line x1="633.50" y1="1049.00" x2="633.50" y2="1108.50" stroke="#555" stroke-width="1.0" />
<rect x="648.8" y="1049" width="18" height="4.5" fill="none" stroke="#555" stroke-width="1"/>
<ellipse cx="658" cy="1064.5" rx="7.5" ry="8" fill="none" stroke="#444" stroke-width="1"/>
<rect x="614" y="1068" width="16.5" height="19.5" rx="2" fill="none" stroke="#555" stroke-width="1.4"/>
<circle cx="623" cy="1077.5" r="0.9" fill="#000"/>
<polyline points="672.50,1104.00 655.00,1086.00" fill="none" stroke="#333" stroke-width="1.0" />
<path d="M655,1086 Q663,1080 676.8,1079" fill="none" stroke="#333" stroke-width="1.0" />
<polygon points="585.30,1081.40 602.20,1081.40 602.20,1100.00 600.00,1100.00" fill="#000" stroke="none" stroke-width="0"/>
<polygon points="596.70,1086.10 601.20,1086.10 601.20,1090.60" fill="#fff" stroke="none" stroke-width="0"/>
<polyline points="599.73,1097.73 583.12,1081.12 563.32,1100.91 579.93,1117.53" fill="none" stroke="#444" stroke-width="1.0" />
<polyline points="564.73,1102.33 554.83,1112.23 570.03,1127.43" fill="none" stroke="#444" stroke-width="1.0" />
<polyline points="583.82,1083.94 597.61,1097.73" fill="none" stroke="#666" stroke-width="0.8" />
<polyline points="737.50,988.75 720.00,1006.25" fill="none" stroke="#333" stroke-width="1.0" />
<path d="M720,1006.25 Q728,1011 737.5,1012.5" fill="none" stroke="#333" stroke-width="1.0" />
<path d="M681,1181.25 L681,1155.75 A23.5,25 0 0 1 704.5,1180.75" fill="none" stroke="#333" stroke-width="1.0" />
<line x1="361.25" y1="1127.50" x2="383.75" y2="1142.50" stroke="#333" stroke-width="1.0" />
<path d="M380,1108.5 A28,34 0 0 1 383.75,1142.5" fill="none" stroke="#333" stroke-width="1.0" />
<polyline points="500.60,1163.40 519.30,1145.30 535.30,1161.70" fill="none" stroke="#444" stroke-width="1.0" />
<polyline points="521.40,1146.00 536.70,1131.10 551.60,1146.00" fill="none" stroke="#444" stroke-width="1.0" />
<circle cx="552.50" cy="617.00" r="5.6" fill="#000"/>
<circle cx="599.50" cy="617.00" r="5.6" fill="#000"/>
<circle cx="677.50" cy="617.00" r="5.6" fill="#000"/>
<circle cx="552.50" cy="688.75" r="5.6" fill="#000"/>
<circle cx="599.50" cy="688.75" r="5.6" fill="#000"/>
<circle cx="677.50" cy="688.75" r="5.6" fill="#000"/>
<circle cx="1017.00" cy="458.75" r="8" fill="#000"/>
<circle cx="1046.75" cy="490.00" r="8" fill="#000"/>
<circle cx="1046.75" cy="567.50" r="8" fill="#000"/>
<circle cx="1017.00" cy="598.75" r="8" fill="#000"/>
<circle cx="993.00" cy="613.75" r="8" fill="#000"/>
<circle cx="1023.00" cy="645.00" r="8" fill="#000"/>
<circle cx="1023.00" cy="740.00" r="8" fill="#000"/>
<circle cx="993.00" cy="771.25" r="8" fill="#000"/>
<circle cx="973.00" cy="829.50" r="8" fill="#000"/>
<circle cx="1002.50" cy="861.25" r="8" fill="#000"/>
<circle cx="1002.50" cy="922.00" r="8" fill="#000"/>
<circle cx="973.00" cy="954.25" r="8" fill="#000"/>
<circle cx="1127.50" cy="987.00" r="7.8" fill="#000"/>
<circle cx="1127.50" cy="1037.50" r="7.8" fill="#000"/>
<circle cx="1127.50" cy="1092.50" r="7.8" fill="#000"/>
<circle cx="1127.50" cy="1153.75" r="7.8" fill="#000"/>
<circle cx="1127.50" cy="1206.25" r="7.8" fill="#000"/>
<text x="546.25" y="668.75" font-size="10.5" textLength="10.00" lengthAdjust="spacingAndGlyphs" fill="#111" stroke="#111" stroke-width="0.2" font-weight="normal" >Dn</text>
<text x="477.25" y="790.60" font-size="10.5" textLength="9.85" lengthAdjust="spacingAndGlyphs" fill="#111" stroke="#111" stroke-width="0.2" font-weight="normal" >Dn</text>
<text x="604.90" y="711.20" font-size="10.5" textLength="9.40" lengthAdjust="spacingAndGlyphs" fill="#111" stroke="#111" stroke-width="0.2" font-weight="normal" >Dn</text>
<text x="774.20" y="702.50" font-size="10.5" textLength="9.50" lengthAdjust="spacingAndGlyphs" fill="#111" stroke="#111" stroke-width="0.2" font-weight="normal" >Up</text>
<text x="583.10" y="913.20" font-size="10.5" textLength="10.10" lengthAdjust="spacingAndGlyphs" fill="#111" stroke="#111" stroke-width="0.2" font-weight="normal" >Up</text>
<text x="622.00" y="999.20" font-size="10.5" textLength="9.50" lengthAdjust="spacingAndGlyphs" fill="#111" stroke="#111" stroke-width="0.2" font-weight="normal" >Dn</text>
<text x="668.00" y="1034.00" font-size="10.5" textLength="10.00" lengthAdjust="spacingAndGlyphs" fill="#111" stroke="#111" stroke-width="0.2" font-weight="normal" >Dn</text>
<text x="1143.75" y="630.75" font-size="10.5" textLength="9.25" lengthAdjust="spacingAndGlyphs" fill="#111" stroke="#111" stroke-width="0.2" font-weight="normal" >Dn</text>
<text x="1141.25" y="780.50" font-size="10.5" textLength="9.25" lengthAdjust="spacingAndGlyphs" fill="#111" stroke="#111" stroke-width="0.2" font-weight="normal" >Dn</text>
<text x="281.75" y="687.50" font-size="10.5" textLength="10.25" lengthAdjust="spacingAndGlyphs" fill="#111" stroke="#111" stroke-width="0.2" font-weight="normal" >FP</text>
<text x="369.50" y="1202.00" font-size="10.5" textLength="11.00" lengthAdjust="spacingAndGlyphs" fill="#111" stroke="#111" stroke-width="0.2" font-weight="normal" >FP</text>
<text x="565.30" y="744.20" font-size="10.5" textLength="9.70" lengthAdjust="spacingAndGlyphs" fill="#111" stroke="#111" stroke-width="0.5" font-weight="normal" >B.I</text>
<text x="592.00" y="1051.00" font-size="10.5" textLength="9.00" lengthAdjust="spacingAndGlyphs" fill="#111" stroke="#111" stroke-width="0.2" font-weight="normal" >B.</text>
<text x="573.90" y="1105.00" font-size="10.5" textLength="15.50" lengthAdjust="spacingAndGlyphs" fill="#111" stroke="#111" stroke-width="0.2" font-weight="normal" >REF</text>
<text x="511.30" y="1168.30" font-size="10.5" textLength="15.30" lengthAdjust="spacingAndGlyphs" fill="#111" stroke="#111" stroke-width="0.2" font-weight="normal" >REF</text>
<g transform="translate(706.25,1107.5) rotate(-90)"><text x="0" y="0" font-size="15.2" textLength="58.75" lengthAdjust="spacingAndGlyphs" fill="#000" stroke="#000" stroke-width="0.3">Mud Room</text></g>
<g transform="translate(723.2,1111.25) rotate(-90)"><text x="0" y="0" font-size="15.2" textLength="66.25" lengthAdjust="spacingAndGlyphs" fill="#000" stroke="#000" stroke-width="0.3">18' 6&quot; x 5' 8&quot;</text></g>
<text x="393.75" y="680.00" font-size="15.2" textLength="70.75" lengthAdjust="spacingAndGlyphs" fill="#000" stroke="#000" stroke-width="0.2" font-weight="normal" >Family Room</text>
<text x="392.50" y="697.50" font-size="15.2" textLength="73.50" lengthAdjust="spacingAndGlyphs" fill="#000" stroke="#000" stroke-width="0.2" font-weight="normal" >25' 6&quot; x 18' 4&quot;</text>
<text x="622.50" y="503.00" font-size="15.2" textLength="36.75" lengthAdjust="spacingAndGlyphs" fill="#000" stroke="#000" stroke-width="0.2" font-weight="normal" >Library</text>
<text x="604.50" y="520.75" font-size="15.2" textLength="73.50" lengthAdjust="spacingAndGlyphs" fill="#000" stroke="#000" stroke-width="0.2" font-weight="normal" >15' 2&quot; x 14' 2&quot;</text>
<text x="840.00" y="506.00" font-size="15.2" textLength="69.25" lengthAdjust="spacingAndGlyphs" fill="#000" stroke="#000" stroke-width="0.2" font-weight="normal" >Sitting Room</text>
<text x="837.50" y="523.75" font-size="15.2" textLength="73.75" lengthAdjust="spacingAndGlyphs" fill="#000" stroke="#000" stroke-width="0.2" font-weight="normal" >17' 9&quot; x 15' 2&quot;</text>
<text x="805.00" y="664.50" font-size="15.2" textLength="30.50" lengthAdjust="spacingAndGlyphs" fill="#000" stroke="#000" stroke-width="0.2" font-weight="normal" >Foyer</text>
<text x="783.75" y="682.00" font-size="15.2" textLength="73.00" lengthAdjust="spacingAndGlyphs" fill="#000" stroke="#000" stroke-width="0.2" font-weight="normal" >31' 0&quot; x 14' 3&quot;</text>
<text x="1074.50" y="711.25" font-size="15.2" textLength="30.50" lengthAdjust="spacingAndGlyphs" fill="#000" stroke="#000" stroke-width="0.2" font-weight="normal" >Porch</text>
<text x="503.10" y="848.10" font-size="15.2" textLength="75.00" lengthAdjust="spacingAndGlyphs" fill="#000" stroke="#000" stroke-width="0.2" font-weight="normal" >Eat-in Kitchen</text>
<text x="504.00" y="866.25" font-size="15.2" textLength="73.50" lengthAdjust="spacingAndGlyphs" fill="#000" stroke="#000" stroke-width="0.2" font-weight="normal" >20' 8&quot; x 13' 0&quot;</text>
<text x="327.00" y="928.75" font-size="15.2" textLength="40.50" lengthAdjust="spacingAndGlyphs" fill="#000" stroke="#000" stroke-width="0.2" font-weight="normal" >Terrace</text>
<text x="310.00" y="946.25" font-size="15.2" textLength="73.25" lengthAdjust="spacingAndGlyphs" fill="#000" stroke="#000" stroke-width="0.2" font-weight="normal" >15' 0&quot; x 13' 0&quot;</text>
<text x="727.00" y="905.00" font-size="15.2" textLength="69.25" lengthAdjust="spacingAndGlyphs" fill="#000" stroke="#000" stroke-width="0.2" font-weight="normal" >Dining Room</text>
<text x="725.75" y="922.50" font-size="15.2" textLength="72.25" lengthAdjust="spacingAndGlyphs" fill="#000" stroke="#000" stroke-width="0.2" font-weight="normal" >19' 4&quot; x 17' 6&quot;</text>
<text x="501.00" y="970.60" font-size="15.2" textLength="39.25" lengthAdjust="spacingAndGlyphs" fill="#000" stroke="#000" stroke-width="0.2" font-weight="normal" >Kitchen</text>
<text x="484.00" y="988.50" font-size="15.2" textLength="72.90" lengthAdjust="spacingAndGlyphs" fill="#000" stroke="#000" stroke-width="0.2" font-weight="normal" >19' 0&quot; x 15' 4&quot;</text>
<text x="387.00" y="1155.50" font-size="15.2" textLength="56.75" lengthAdjust="spacingAndGlyphs" fill="#000" stroke="#000" stroke-width="0.2" font-weight="normal" >Sun Room</text>
<text x="378.25" y="1173.25" font-size="15.2" textLength="73.00" lengthAdjust="spacingAndGlyphs" fill="#000" stroke="#000" stroke-width="0.2" font-weight="normal" >11' 2&quot; x 11' 2&quot;</text>
<text x="600.00" y="1151.25" font-size="15.2" textLength="35.00" lengthAdjust="spacingAndGlyphs" fill="#000" stroke="#000" stroke-width="0.2" font-weight="normal" >Pantry</text>
<text x="860.00" y="1100.25" font-size="15.2" textLength="79.50" lengthAdjust="spacingAndGlyphs" fill="#000" stroke="#000" stroke-width="0.2" font-weight="normal" >3 Car Garages</text>
<text x="863.25" y="1118.25" font-size="15.2" textLength="73.75" lengthAdjust="spacingAndGlyphs" fill="#000" stroke="#000" stroke-width="0.2" font-weight="normal" >28' 5&quot; x 21' 2&quot;</text>
</svg></body></html>
